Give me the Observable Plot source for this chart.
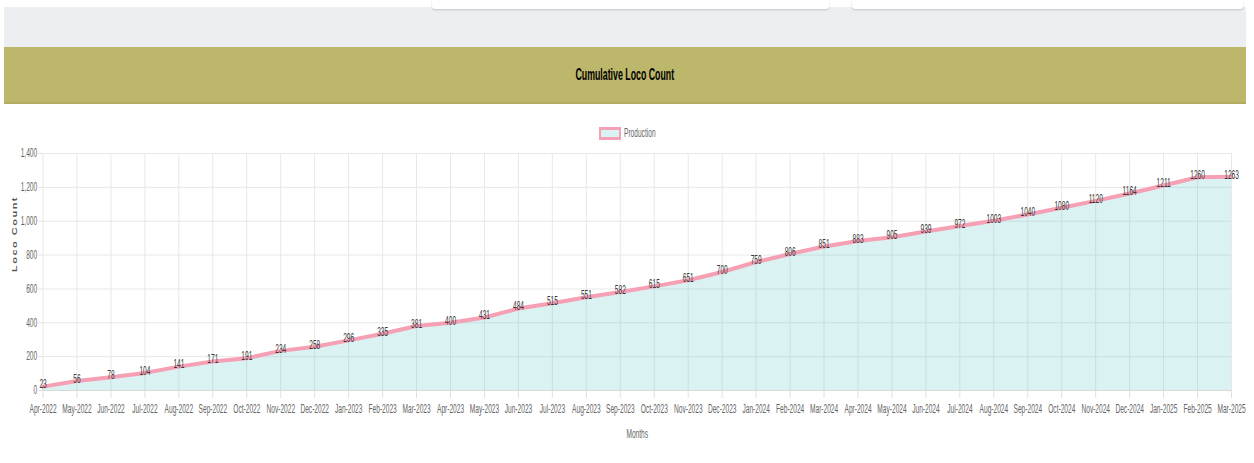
<!DOCTYPE html>
<html>
<head>
<meta charset="utf-8">
<script src="https://cdn.jsdelivr.net/npm/d3@7"></script>
<script src="https://cdn.jsdelivr.net/npm/@observablehq/plot@0.6"></script>
<style>
  body { margin:0; width:1254px; height:463px; overflow:hidden; background:#fff; position:relative;
         font-family:"Liberation Sans", Arial, sans-serif; }
  #gray { position:absolute; left:4px; top:7px; width:1242px; height:40px; background:#eceff1; }
  .card { position:absolute; top:0; height:9px; background:#fff; box-shadow:0 1px 2px rgba(0,0,0,0.18); border-radius:0 0 3px 3px; }
  #band { position:absolute; left:4px; top:47px; width:1242px; height:55px; background:#bdb76b;
          border-bottom:2px solid #b0aa62; display:flex; align-items:center; justify-content:center; }
  #band span { display:inline-block; font-weight:bold; font-size:16px; color:#000; transform:scaleX(0.55); white-space:nowrap; }
  #legend { position:absolute; left:599px; top:127px; height:13px; }
  #legend .box { position:absolute; left:0; top:0; width:18px; height:7px; background:#dbf2f2;
                 border-style:solid; border-color:#f5a0b4; border-width:3px 2px; }
  #legend .lt { position:absolute; left:25px; top:-1px; font-size:12px; color:#666; line-height:14px;
                display:inline-block; transform:scaleX(0.55); transform-origin:left center; white-space:nowrap; }
  #chart { position:absolute; left:0; top:145px; }
</style>
</head>
<body>
<div id="gray"></div>
<div class="card" style="left:432px;width:397px"></div>
<div class="card" style="left:852px;width:391px"></div>
<div id="band"><span>Cumulative Loco Count</span></div>
<div id="legend"><span class="box"></span><span class="lt">Production</span></div>
<div id="chart"></div>
<script>
const months = [
  "Apr-2022","May-2022","Jun-2022","Jul-2022","Aug-2022","Sep-2022","Oct-2022","Nov-2022","Dec-2022",
  "Jan-2023","Feb-2023","Mar-2023","Apr-2023","May-2023","Jun-2023","Jul-2023","Aug-2023","Sep-2023",
  "Oct-2023","Nov-2023","Dec-2023","Jan-2024","Feb-2024","Mar-2024","Apr-2024","May-2024","Jun-2024",
  "Jul-2024","Aug-2024","Sep-2024","Oct-2024","Nov-2024","Dec-2024","Jan-2025","Feb-2025","Mar-2025"
];
const production = [
  23, 56, 78, 104, 141, 171, 191, 234, 258,
  296, 335, 381, 400, 431, 484, 515, 551, 582,
  615, 651, 700, 759, 806, 851, 883, 905, 939,
  972, 1003, 1040, 1080, 1120, 1164, 1211, 1260, 1263
];
const yTicks = [0, 200, 400, 600, 800, 1000, 1200, 1400];
const yTitle = "Loco Count";
const xTitle = "Months";

const data = months.map((m, i) => ({month: m, count: production[i]}));

const svg = Plot.plot({
  width: 1254,
  height: 318,
  marginTop: 8,
  marginBottom: 73,
  marginLeft: 42.5,
  marginRight: 23,
  style: {fontFamily: '"Liberation Sans", Arial, sans-serif', fontSize: "12px", background: "transparent"},
  x: {type: "point", domain: months, padding: 0},
  y: {domain: [0, 1400]},
  marks: [
    Plot.gridY(yTicks, {stroke: "#e8e8e8", strokeOpacity: 1}),
    Plot.gridX(months, {stroke: "#e8e8e8", strokeOpacity: 1}),
    Plot.areaY(data, {x: "month", y: "count", fill: "rgb(75,192,192)", fillOpacity: 0.2}),
    Plot.ruleY([0], {stroke: "#d8d8d8"}),
    Plot.lineY(data, {x: "month", y: "count", stroke: "#f5a0b4", strokeWidth: 4}),
    Plot.axisY(yTicks, {tickFormat: d3.format(","), tickSize: 4, tickPadding: 2, stroke: "#e0e0e0", fill: "#666", label: null}),
    Plot.axisX(months, {tickSize: 8, tickPadding: 6, stroke: "#e0e0e0", fill: "#666", label: null}),
    Plot.text(data, {x: "month", y: "count", text: d => String(d.count), fill: "#3a3a3a", fontSize: 12, dy: -2}),
    Plot.text([yTitle], {text: d => d, frameAnchor: "left", dx: -28, rotate: -90, fill: "#555", fontSize: 11, fontWeight: "bold"}),
    Plot.text([xTitle], {text: d => d, frameAnchor: "bottom", dy: 47, fill: "#666", fontSize: 12})
  ]
});
document.getElementById("chart").appendChild(svg);

// horizontal compression of the text glyphs, as in the reference picture:
// each text is wrapped in a group that scales it horizontally about its anchor.
const SX = 0.55;
Array.from(svg.querySelectorAll("text")).forEach(t => {
  const isYTitle = t.textContent === yTitle;
  if (isYTitle) t.style.letterSpacing = "1.5px";
  const parent = t.parentNode;
  const r = t.getBoundingClientRect();
  const anchor = getComputedStyle(t).textAnchor;
  let sx = r.left;
  if (isYTitle || anchor === "middle") sx = (r.left + r.right) / 2;
  else if (anchor === "end") sx = r.right;
  const pt = svg.createSVGPoint();
  pt.x = sx; pt.y = (r.top + r.bottom) / 2;
  const p = pt.matrixTransform(parent.getScreenCTM().inverse());
  const g = document.createElementNS("http://www.w3.org/2000/svg", "g");
  const k = isYTitle ? 0.65 : SX;
  g.setAttribute("transform", `translate(${p.x},${p.y}) scale(${k},1) translate(${-p.x},${-p.y})`);
  parent.insertBefore(g, t);
  g.appendChild(t);
});
</script>
</body>
</html>
